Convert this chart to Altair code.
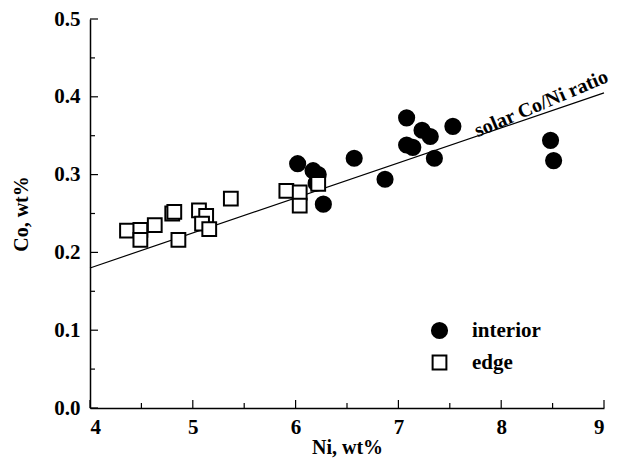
import altair as alt
import pandas as pd

# interior (filled circles)
int_ni = [6.02, 6.17, 6.22, 6.20, 6.27, 6.57, 6.87, 7.08, 7.08, 7.14, 7.23, 7.31, 7.35, 7.53, 8.48, 8.51]
int_co = [0.314, 0.305, 0.300, 0.289, 0.262, 0.321, 0.294, 0.373, 0.338, 0.335, 0.357, 0.349, 0.321, 0.362, 0.344, 0.318]
# edge (open squares)
edge_ni = [4.36, 4.49, 4.49, 4.63, 4.80, 4.82, 4.86, 5.06, 5.13, 5.09, 5.16, 5.37, 5.91, 6.04, 6.04, 6.22]
edge_co = [0.228, 0.229, 0.216, 0.235, 0.250, 0.252, 0.216, 0.254, 0.247, 0.237, 0.230, 0.269, 0.279, 0.277, 0.260, 0.288]

# solar Co/Ni ratio line
solar_ni = [4.0, 9.0]
solar_co = [0.18, 0.405]

x_major = [4, 5, 6, 7, 8, 9]
x_minor = [4.5, 5.5, 6.5, 7.5, 8.5]
y_major = [0.0, 0.1, 0.2, 0.3, 0.4, 0.5]
y_minor = [0.05, 0.15, 0.25, 0.35, 0.45]

FONT = "Liberation Serif"
W, H = 514, 389

pts = pd.DataFrame({
    "ni": int_ni + edge_ni,
    "co": int_co + edge_co,
    "type": ["interior"] * len(int_ni) + ["edge"] * len(edge_ni),
})
solar = pd.DataFrame({"ni": solar_ni, "co": solar_co})

xs = alt.Scale(domain=[4, 9], nice=False)
ys = alt.Scale(domain=[0, 0.5], nice=False)

axis_common = dict(
    tickSize=0, grid=False,
    domainColor="black", domainWidth=1.5,
    labelFont=FONT, labelFontWeight="bold", labelFontSize=21, labelColor="black",
    titleFont=FONT, titleFontWeight="bold", titleFontSize=20, titleColor="black",
)
xaxis = alt.Axis(values=x_major, format="d", title="Ni, wt%", titlePadding=0, labelPadding=8, **axis_common)
yaxis = alt.Axis(values=y_major, format=".1f", title="Co, wt%", titlePadding=22, labelPadding=10,
                 labelAngle=0, **axis_common)

base_axes = alt.Chart(pd.DataFrame({"ni": [4.0], "co": [0.0]})).mark_point(opacity=0).encode(
    x=alt.X("ni:Q", scale=xs, axis=xaxis),
    y=alt.Y("co:Q", scale=ys, axis=yaxis),
)

line = alt.Chart(solar).mark_line(color="black", strokeWidth=1.2).encode(
    x=alt.X("ni:Q", scale=xs), y=alt.Y("co:Q", scale=ys)
)

label = alt.Chart(pd.DataFrame({"ni": [8.39], "co": [0.391], "t": ["solar Co/Ni ratio"]})).mark_text(
    font=FONT, fontWeight="bold", fontSize=20, angle=337, align="center", baseline="middle", color="black"
).encode(x=alt.X("ni:Q", scale=xs), y=alt.Y("co:Q", scale=ys), text="t:N")

leg = alt.Legend(title=None, orient="none", legendX=339, legendY=301,
                 labelFont=FONT, labelFontWeight="bold", labelFontSize=21,
                 labelColor="black", labelOffset=22, rowPadding=8,
                 symbolStrokeWidth=2, symbolOpacity=1)
dom = ["interior", "edge"]

points = alt.Chart(pts).mark_point(strokeWidth=2, opacity=1, filled=False).encode(
    x=alt.X("ni:Q", scale=xs),
    y=alt.Y("co:Q", scale=ys),
    shape=alt.Shape("type:N", scale=alt.Scale(domain=dom, range=["circle", "square"]), legend=leg),
    fill=alt.Fill("type:N", scale=alt.Scale(domain=dom, range=["black", "white"]), legend=leg),
    stroke=alt.Stroke("type:N", scale=alt.Scale(domain=dom, range=["black", "black"]), legend=leg),
    size=alt.Size("type:N", scale=alt.Scale(domain=dom, range=[230, 190]), legend=leg),
    order=alt.Order("type:N", sort="descending"),
)

xt_major = alt.Chart(pd.DataFrame({"v": x_major})).mark_rule(color="black", strokeWidth=1.2).encode(
    x=alt.X("v:Q", scale=xs), y=alt.value(H), y2=alt.value(H - 8))
xt_minor = alt.Chart(pd.DataFrame({"v": x_minor})).mark_rule(color="black", strokeWidth=1.2).encode(
    x=alt.X("v:Q", scale=xs), y=alt.value(H), y2=alt.value(H - 5))
yt_major = alt.Chart(pd.DataFrame({"v": y_major})).mark_rule(color="black", strokeWidth=1.2).encode(
    y=alt.Y("v:Q", scale=ys), x=alt.value(0), x2=alt.value(8))
yt_minor = alt.Chart(pd.DataFrame({"v": y_minor})).mark_rule(color="black", strokeWidth=1.2).encode(
    y=alt.Y("v:Q", scale=ys), x=alt.value(0), x2=alt.value(5))

chart = alt.layer(base_axes, line, xt_major, xt_minor, yt_major, yt_minor, points, label).properties(
    width=W, height=H,
    autosize=alt.AutoSizeParams(type="none"),
    padding={"left": 82, "top": 11, "right": 10, "bottom": 50},
).configure_view(stroke=None)

chart.save("out.html", embed_options={"renderer": "svg", "actions": False})
